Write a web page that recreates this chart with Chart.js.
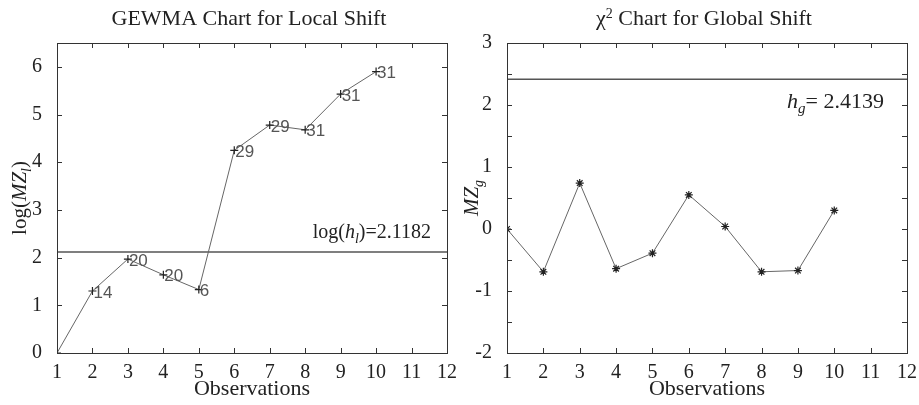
<!DOCTYPE html>
<html><head><meta charset="utf-8">
<script src="https://cdn.jsdelivr.net/npm/chart.js@4/dist/chart.umd.min.js"></script>
<style>
html,body{margin:0;padding:0;background:#fff;}
#wrap{width:919px;height:405px;position:relative;}
.c{position:absolute;top:0;height:405px;}
</style></head>
<body>
<div id="wrap">
<div class="c" style="left:0;width:460px"><canvas id="left"></canvas></div>
<div class="c" style="left:460px;width:459px"><canvas id="right"></canvas></div>
</div>
<script>
// ---- data ----
const observations = [1, 2, 3, 4, 5, 6, 7, 8, 9, 10];
const localValues = [0, 1.30, 1.97, 1.64, 1.33, 4.25, 4.78, 4.68, 5.43, 5.90];
const localLabels = ['', '14', '20', '20', '6', '29', '29', '31', '31', '31'];
const globalValues = [0, -0.69, 0.74, -0.64, -0.39, 0.55, 0.04, -0.69, -0.67, 0.30];
const localLimit = 2.1182;
const globalLimit = 2.4139;
const xTicks = [1,2,3,4,5,6,7,8,9,10,11,12];
const localYTicks = [0,1,2,3,4,5,6];
const globalYTicks = [-2,-1.5,-1,-0.5,0,0.5,1,1.5,2,2.5,3];

const SERIF = '"Liberation Serif", "Times New Roman", serif';
const SANS = '"Liberation Sans", Arial, sans-serif';

function drawRich(ctx, parts, x, y, align) {
  let w = 0;
  const measured = parts.map(p => {
    ctx.font = (p.italic ? 'italic ' : '') + p.size + 'px ' + SERIF;
    const mw = ctx.measureText(p.t).width;
    w += mw;
    return {p, mw, font: ctx.font};
  });
  let cx = align === 'right' ? x - w : (align === 'center' ? x - w / 2 : x);
  measured.forEach(m => {
    ctx.font = m.font;
    let dy = 0;
    if (m.p.sub) dy = m.p.size * 0.35;
    if (m.p.sup) dy = -m.p.size * 0.5;
    ctx.fillText(m.p.t, cx, y + dy);
    cx += m.mw;
  });
}

function framePlugin(cfg) {
  return {
    id: 'frame',
    afterDraw(chart) {
      const ctx = chart.ctx, a = chart.chartArea;
      const xs = chart.scales.x, ys = chart.scales.y;
      ctx.save();
      ctx.strokeStyle = '#333';
      ctx.lineWidth = 1;
      ctx.strokeRect(Math.round(a.left) + 0.5, Math.round(a.top) + 0.5, Math.round(a.right - a.left), Math.round(a.bottom - a.top));
      const tl = 5;
      ctx.beginPath();
      xTicks.forEach(v => {
        const px = Math.round(xs.getPixelForValue(v)) + 0.5;
        ctx.moveTo(px, a.bottom); ctx.lineTo(px, a.bottom - tl);
        ctx.moveTo(px, a.top); ctx.lineTo(px, a.top + tl);
      });
      cfg.yTicks.forEach(v => {
        const py = Math.round(ys.getPixelForValue(v)) + 0.5;
        ctx.moveTo(a.left, py); ctx.lineTo(a.left + tl, py);
        ctx.moveTo(a.right, py); ctx.lineTo(a.right - tl, py);
      });
      ctx.stroke();
      ctx.fillStyle = '#222';
      ctx.textBaseline = 'alphabetic';
      drawRich(ctx, cfg.title, (a.left + a.right) / 2 - 3, 25, 'center');
      drawRich(ctx, [{t: 'Observations', size: 22}], (a.left + a.right) / 2, 395, 'center');
      ctx.save();
      ctx.translate(cfg.yTitleX, (a.top + a.bottom) / 2);
      ctx.rotate(-Math.PI / 2);
      drawRich(ctx, cfg.yTitle, 0, 0, 'center');
      ctx.restore();
      drawRich(ctx, cfg.limitLabel, cfg.limitX, cfg.limitY, 'right');
      if (cfg.pointLabels) {
        const meta = chart.getDatasetMeta(0);
        ctx.font = '17px ' + SANS;
        ctx.fillStyle = '#555';
        ctx.textBaseline = 'middle';
        meta.data.forEach((pt, i) => {
          const lbl = cfg.pointLabels[i];
          if (lbl) ctx.fillText(lbl, pt.x + 1, pt.y + 2);
        });
      }
      ctx.restore();
    }
  };
}

function makeChart(id, values, limit, yMin, yMax, yTicks, cfg, leftW, rightPad, marker) {
  const pts = observations.map((o, i) => ({x: o, y: values[i]}));
  const limitPts = [{x: 1, y: limit}, {x: 12, y: limit}];
  cfg.yTicks = yTicks;
  return new Chart(document.getElementById(id), {
    type: 'line',
    data: {
      datasets: [
        {data: pts, borderColor: '#666', borderWidth: 1, pointStyle: marker, pointRadius: 4,
         pointBorderColor: '#222', pointBorderWidth: 1.2, pointBackgroundColor: '#222', tension: 0},
        {data: limitPts, borderColor: '#555', borderWidth: 1.5, pointRadius: 0, tension: 0}
      ]
    },
    options: {
      responsive: true, maintainAspectRatio: false, animation: false,
      layout: {padding: {left: 0, right: rightPad, top: 43, bottom: 0}},
      plugins: {legend: {display: false}, tooltip: {enabled: false}, title: {display: false}},
      scales: {
        x: {
          type: 'linear', min: 1, max: 12,
          afterBuildTicks: s => { s.ticks = xTicks.map(v => ({value: v})); },
          afterFit: s => { s.height = 52; },
          grid: {display: false}, border: {display: false},
          ticks: {color: '#222', font: {family: SERIF, size: 20}, padding: 0, maxRotation: 0, autoSkip: false}
        },
        y: {
          type: 'linear', min: yMin, max: yMax,
          afterBuildTicks: s => { s.ticks = yTicks.map(v => ({value: v})); },
          afterFit: s => { s.width = leftW; },
          grid: {display: false}, border: {display: false},
          ticks: {color: '#222', font: {family: SERIF, size: 20}, padding: 7, autoSkip: false,
                  callback: v => Number.isInteger(v) ? String(v) : ''}
        }
      }
    },
    plugins: [framePlugin(cfg)]
  });
}

makeChart('left', localValues, localLimit, 0, 6.5, localYTicks, {
  title: [{t: 'GEWMA Chart for Local Shift', size: 22}],
  yTitle: [{t: 'log(', size: 21}, {t: 'MZ', size: 21, italic: true}, {t: 'l', size: 14, italic: true, sub: true}, {t: ')', size: 21}],
  yTitleX: 26,
  limitLabel: [{t: 'log(', size: 20}, {t: 'h', size: 20, italic: true}, {t: 'l', size: 14, italic: true, sub: true}, {t: ')=2.1182', size: 20}],
  limitX: 431, limitY: 238,
  pointLabels: localLabels
}, 57, 13, 'cross');

makeChart('right', globalValues, globalLimit, -2, 3, globalYTicks, {
  title: [{t: 'χ', size: 22}, {t: '2', size: 14, sup: true}, {t: ' Chart for Global Shift', size: 22}],
  yTitle: [{t: 'MZ', size: 21, italic: true}, {t: 'g', size: 14, italic: true, sub: true}],
  yTitleX: 18,
  limitLabel: [{t: 'h', size: 22, italic: true}, {t: 'g', size: 15, italic: true, sub: true}, {t: '= 2.4139', size: 22}],
  limitX: 424, limitY: 108,
  pointLabels: null
}, 47, 12, 'star');
</script>
</body></html>
